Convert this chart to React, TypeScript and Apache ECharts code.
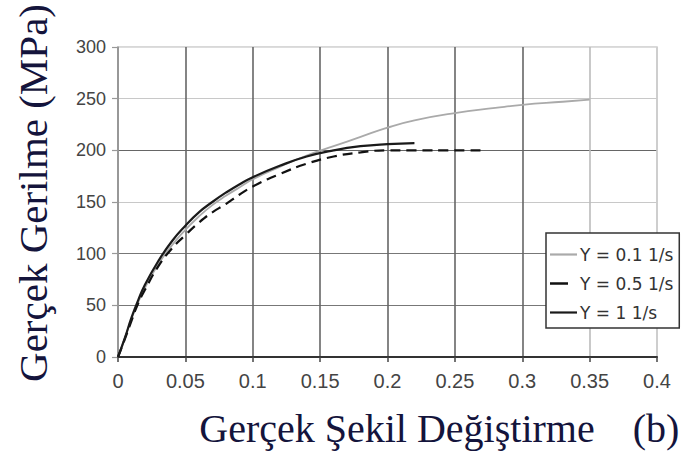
import React, { useEffect, useRef } from "react";
import * as echarts from "echarts";

const xTicks = [0, 0.05, 0.1, 0.15, 0.2, 0.25, 0.3, 0.35, 0.4];
const yTicks = [0, 50, 100, 150, 200, 250, 300];

const seriesNames = ["Y = 0.1 1/s", "Y = 0.5 1/s", "Y = 1 1/s"];

const strainLow = [0, 0.005, 0.01, 0.015, 0.02, 0.03, 0.04, 0.05, 0.06, 0.07, 0.08, 0.09, 0.1, 0.12, 0.14, 0.16, 0.18, 0.2, 0.22, 0.25, 0.28, 0.3, 0.33, 0.35];
const stressLow = [0, 18, 37, 53, 67, 90, 108, 123, 136, 147, 156, 164, 172, 184, 195, 204, 213, 222, 229, 236, 241, 244, 247, 249];

const strainMid = [0, 0.005, 0.01, 0.015, 0.02, 0.03, 0.04, 0.05, 0.06, 0.07, 0.08, 0.09, 0.1, 0.12, 0.14, 0.16, 0.18, 0.2, 0.22, 0.25, 0.27];
const stressMid = [0, 17, 35, 52, 65, 88, 105, 118, 130, 140, 148, 157, 165, 177, 187, 194, 198, 200, 200, 200, 200];

const strainHigh = [0, 0.005, 0.01, 0.015, 0.02, 0.03, 0.04, 0.05, 0.06, 0.07, 0.08, 0.09, 0.1, 0.12, 0.14, 0.16, 0.18, 0.2, 0.22];
const stressHigh = [0, 18, 38, 55, 70, 93, 112, 127, 140, 150, 159, 167, 174, 185, 194, 200, 204, 206, 207];

const zip = (xs: number[], ys: number[]) => xs.map((x, i) => [x, ys[i]]);

const solidIcon = "path://M0,0H27V2.2H0Z";
const dashIcon = "path://M0,0H18V2.4H0Z M26.8,0H27V0.05H26.8Z";

export default function App() {
  const ref = useRef<HTMLDivElement>(null);
  useEffect(() => {
    if (!ref.current) return;
    const chart = echarts.init(ref.current, undefined, { renderer: "svg" });
    chart.setOption({
      animation: false,
      backgroundColor: "#ffffff",
      grid: {
        left: 118,
        right: 32,
        top: 47,
        bottom: 100,
        show: true,
        borderColor: "#cccccc",
        borderWidth: 1.5,
      },
      xAxis: {
        type: "value",
        min: xTicks[0],
        max: xTicks[xTicks.length - 1],
        interval: 0.05,
        axisLine: { show: true, lineStyle: { color: "#333", width: 2 } },
        axisTick: { show: true, inside: false, length: 5, lineStyle: { color: "#444", width: 1.5 } },
        axisLabel: {
          margin: 14,
          fontSize: 20,
          fontFamily: "Liberation Sans",
          color: "#444",
        },
        splitLine: {
          show: true,
          lineStyle: { color: ["#888", "#666", "#666", "#666", "#666", "#666", "#666", "#bbb", "#ccc"], width: 1.6 },
        },
      },
      yAxis: {
        type: "value",
        min: yTicks[0],
        max: yTicks[yTicks.length - 1],
        interval: 50,
        axisLine: { show: true, lineStyle: { color: "#999", width: 1.5 } },
        axisTick: { show: true, length: 6, lineStyle: { color: "#999", width: 1.2 } },
        axisLabel: {
          margin: 12,
          fontSize: 18,
          fontFamily: "Liberation Sans",
          color: "#444",
        },
        splitLine: {
          show: true,
          lineStyle: { color: ["#999", "#777", "#777", "#c8c8c8", "#666", "#c8c8c8", "#ddd"], width: 1.2 },
        },
      },
      legend: {
        orient: "vertical",
        left: 546,
        top: 233,
        padding: [13, 6, 7, 4],
        itemGap: 12,
        itemWidth: 27,
        itemHeight: 14,
        backgroundColor: "#ffffff",
        borderColor: "#333",
        borderWidth: 1.5,
        textStyle: { fontSize: 17, fontFamily: "DejaVu Sans", color: "#333", padding: [0, 0, 0, -2] },
        data: [
          { name: seriesNames[0], icon: solidIcon },
          { name: seriesNames[1], icon: dashIcon },
          { name: seriesNames[2], icon: solidIcon },
        ],
      },
      series: [
        {
          name: seriesNames[0],
          type: "line",
          data: zip(strainLow, stressLow),
          symbol: "none",
          smooth: true,
          lineStyle: { color: "#aaaaaa", width: 1.8 },
          itemStyle: { color: "#aaaaaa" },
          z: 3,
        },
        {
          name: seriesNames[1],
          type: "line",
          data: zip(strainMid, stressMid),
          symbol: "none",
          smooth: true,
          lineStyle: { color: "#111", width: 2.2, type: [10, 6] },
          itemStyle: { color: "#111" },
          z: 4,
        },
        {
          name: seriesNames[2],
          type: "line",
          data: zip(strainHigh, stressHigh),
          symbol: "none",
          smooth: true,
          lineStyle: { color: "#1a1a1a", width: 2.2 },
          itemStyle: { color: "#1a1a1a" },
          z: 5,
        },
      ],
      graphic: [
        {
          type: "text",
          x: 33,
          y: 193,
          rotation: Math.PI / 2,
          style: {
            text: "Gerçek Gerilme (MPa)",
            font: "41px 'Liberation Serif'",
            fill: "#14143c",
            align: "center",
            verticalAlign: "middle",
          },
        },
        {
          type: "text",
          x: 397,
          y: 428,
          style: {
            text: "Gerçek Şekil Değiştirme",
            font: "40px 'Liberation Serif'",
            fill: "#14143c",
            align: "center",
            verticalAlign: "middle",
          },
        },
        {
          type: "text",
          x: 656,
          y: 428,
          style: {
            text: "(b)",
            font: "40px 'Liberation Serif'",
            fill: "#14143c",
            align: "center",
            verticalAlign: "middle",
          },
        },
      ],
    });
    return () => chart.dispose();
  }, []);
  return (
    <div
      ref={ref}
      style={{ position: "absolute", left: 0, top: 0, width: 689, height: 457 }}
    />
  );
}
